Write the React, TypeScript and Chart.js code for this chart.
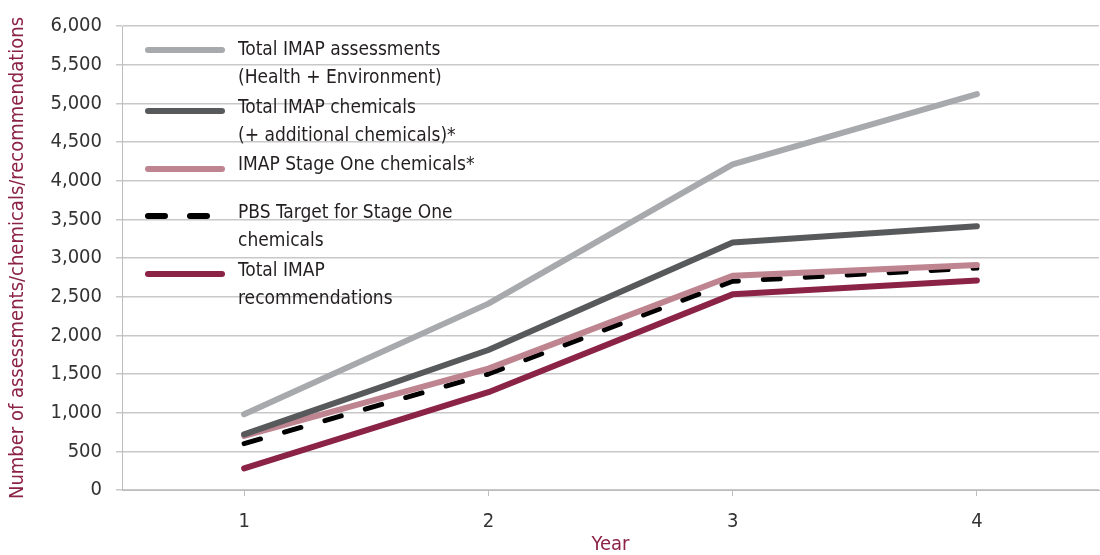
import React, { useEffect, useRef } from "react";
import { Chart, registerables } from "chart.js";

Chart.register(...registerables);

const years = ["1", "2", "3", "4"];
const totalAssessments = [980, 2410, 4210, 5120];
const totalChemicals = [720, 1810, 3200, 3410];
const stageOneChemicals = [700, 1570, 2770, 2910];
const pbsTarget = [600, 1500, 2700, 2870];
const totalRecommendations = [280, 1265, 2530, 2710];

const legendLabels: string[][] = [
  ["Total IMAP assessments", "(Health + Environment)"],
  ["Total IMAP chemicals", "(+ additional chemicals)*"],
  ["IMAP Stage One chemicals*"],
  ["PBS Target for Stage One", "chemicals"],
  ["Total IMAP", "recommendations"],
];

const FONT = "'Liberation Sans Narrow', 'DejaVu Sans Condensed', 'Arial Narrow', sans-serif";
const MAROON = "#8B2346";

const legendPlugin = {
  id: "customLegend",
  afterDraw(chart: any) {
    const { ctx, chartArea } = chart;
    const textTops = [24, 82, 139, 187, 245];
    const sampleYs = [24, 85, 143, 190, 248];
    ctx.save();
    chart.data.datasets.forEach((ds: any, i: number) => {
      const sy = chartArea.top + sampleYs[i];
      ctx.beginPath();
      ctx.strokeStyle = ds.borderColor;
      ctx.lineWidth = 6;
      ctx.lineCap = "round";
      ctx.setLineDash(ds.borderDash && ds.borderDash.length ? [17, 25] : []);
      ctx.moveTo(chartArea.left + 26, sy);
      ctx.lineTo(chartArea.left + 100, sy);
      ctx.stroke();
      ctx.setLineDash([]);
      ctx.fillStyle = "#231F20";
      ctx.font = `19px ${FONT}`;
      ctx.textBaseline = "middle";
      ctx.textAlign = "left";
      legendLabels[i].forEach((line, j) => {
        ctx.fillText(line, chartArea.left + 116, chartArea.top + textTops[i] + j * 28);
      });
    });
    ctx.restore();
  },
};

export default function App() {
  const ref = useRef<HTMLCanvasElement>(null);
  useEffect(() => {
    if (!ref.current) return;
    const common = {
      fill: false,
      tension: 0,
      pointRadius: 0,
      borderWidth: 6,
      borderCapStyle: "round" as const,
      borderJoinStyle: "round" as const,
    };
    const chart = new Chart(ref.current, {
      type: "line",
      data: {
        labels: years,
        datasets: [
          { ...common, label: legendLabels[0].join(" "), data: totalAssessments, borderColor: "#A7A9AC" },
          { ...common, label: legendLabels[1].join(" "), data: totalChemicals, borderColor: "#58595B" },
          { ...common, label: legendLabels[2].join(" "), data: stageOneChemicals, borderColor: "#BE8590" },
          { ...common, label: legendLabels[3].join(" "), data: pbsTarget, borderColor: "#000000", borderDash: [17, 25], borderWidth: 5 },
          { ...common, label: legendLabels[4].join(" "), data: totalRecommendations, borderColor: MAROON },
        ],
      },
      options: {
        animation: false,
        responsive: true,
        maintainAspectRatio: false,
        layout: { padding: { top: 18, right: 1, left: 0, bottom: 0 } },
        plugins: { legend: { display: false }, tooltip: { enabled: false } },
        scales: {
          x: {
            type: "category",
            offset: true,
            grid: { display: true, drawOnChartArea: false, drawTicks: true, tickLength: 6, offset: false, color: "#BDBDBD" },
            border: { display: true, color: "#BDBDBD", width: 1 },
            ticks: { color: "#333333", font: { family: FONT, size: 20 }, padding: 14 },
            title: { display: true, text: "Year", color: MAROON, font: { family: FONT, size: 20 }, padding: { top: 0, bottom: -2 } },
            afterFit: (s: any) => { s.height = 65; },
          },
          y: {
            min: 0,
            max: 6000,
            ticks: {
              stepSize: 500,
              color: "#333333",
              font: { family: FONT, size: 20 },
              padding: 14,
              callback: (v: any) => Number(v).toLocaleString("en-US"),
            },
            grid: { color: "#C8C8C8", tickLength: 6, lineWidth: 1.5 },
            border: { display: true, color: "#BDBDBD", width: 1 },
            title: {
              display: true,
              text: "Number of assessments/chemicals/recommendations",
              color: MAROON,
              font: { family: FONT, size: 20 },
              padding: { top: 6, bottom: 0 },
            },
            afterFit: (s: any) => { s.width = 122; },
          },
        },
      },
      plugins: [legendPlugin],
    });
    return () => chart.destroy();
  }, []);
  return (
    <div style={{ position: "absolute", left: 0, top: 0, width: 1100, height: 555, background: "#fff" }}>
      <canvas ref={ref} />
    </div>
  );
}
